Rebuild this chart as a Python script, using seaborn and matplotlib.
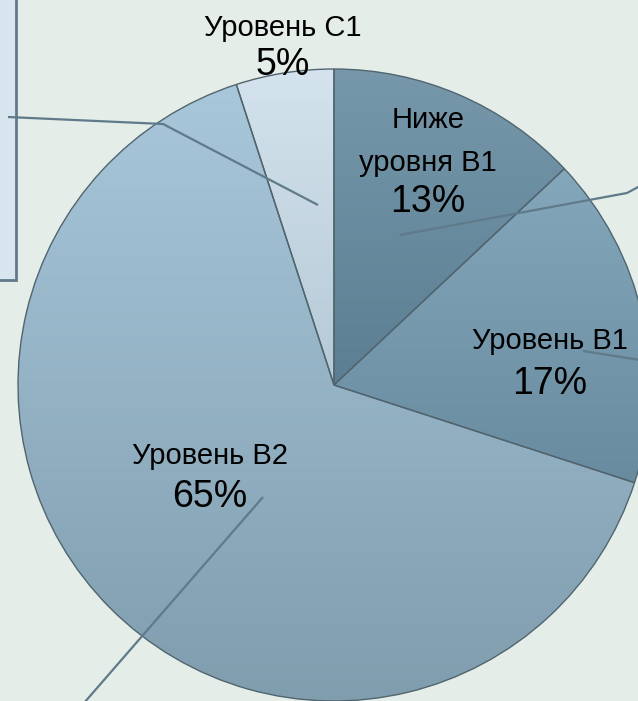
import matplotlib
matplotlib.use("Agg")
import matplotlib.pyplot as plt
from matplotlib.patches import Rectangle
import seaborn as sns
import numpy as np

# chart data
levels = ["Ниже\nуровня B1", "Уровень B1", "Уровень B2", "Уровень C1"]
shares = [13, 17, 65, 5]
pct_labels = ["13%", "17%", "65%", "5%"]

# slice colours (top / bottom of the vertical gradient)
top_colors = ["#7798ab", "#84a7bc", "#a8c7db", "#d4e3ed"]
bottom_colors = ["#5b7e92", "#698ba0", "#7f9dad", "#b5c9d6"]

sns.set_style("white")
plt.rcParams["font.family"] = ["Liberation Sans", "DejaVu Sans"]

W, H = 638, 701
bg = "#e5ede8"
line_col = "#5f7a8a"

fig = plt.figure(figsize=(6.38, 7.01), dpi=100)
fig.patch.set_facecolor(bg)
ax = fig.add_axes([0, 0, 1, 1])
ax.set_facecolor(bg)

cx, cy, r = 334, H - 385, 316
wedges, _ = ax.pie(shares, startangle=90, counterclock=False,
                   center=(cx, cy), radius=r,
                   wedgeprops=dict(edgecolor="#51656f", linewidth=1.0))

#gradient fill inside each slice
grad = np.linspace(0, 1, 256).reshape(-1, 1)
for w, c1, c2 in zip(wedges, top_colors, bottom_colors):
    verts = w.get_path().vertices
    y0, y1 = verts[:, 1].min(), verts[:, 1].max()
    x0, x1 = verts[:, 0].min(), verts[:, 0].max()
    cmap = sns.blend_palette([c1, c2], as_cmap=True)
    im = ax.imshow(grad, cmap=cmap, extent=(x0, x1, y0, y1), origin="upper",
                   aspect="auto", zorder=w.get_zorder() + 0.1)
    im.set_clip_path(w)
    w.set_facecolor("none")
    w.set_zorder(w.get_zorder() + 0.2)

# labels
label_pos = [(428, 120, 202), (550, 341, 384), (210, 456, 497), (283, 28, 65)]
for name, pct, (x, yl, yp) in zip(levels, pct_labels, label_pos):
    if "\n" in name:
        first, second = name.split("\n")
        ax.text(x, H - yl, first, ha="center", va="center", fontsize=21,
                color="black", zorder=5)
        ax.text(x, H - 163, second, ha="center", va="center", fontsize=21,
                color="black", zorder=5)
    else:
        ax.text(x, H - yl, name, ha="center", va="center", fontsize=21,
                color="black", zorder=5)
    ax.text(x, H - yp, pct, ha="center", va="center", fontsize=27,
            color="black", zorder=5)

# leader lines going off to the cut-off callouts
leaders = [
    ([318, 163, 8], [205, 124, 117]),
    ([400, 627, 640], [235, 193, 186]),
    ([583, 640], [351, 360]),
    ([263, 84], [497, 703]),
]
for xs, ys in leaders:
    ax.plot(xs, [H - y for y in ys], color=line_col, lw=1.6, zorder=6,
            solid_capstyle="butt")

# the edge of the callout box on the left
ax.add_patch(Rectangle((-10, H - 280), 25.5, 300, facecolor="#d8e5ef",
                       edgecolor=line_col, lw=2, zorder=4))

ax.set_xlim(0, W)
ax.set_ylim(0, H)
ax.set_aspect("equal")
ax.axis("off")

plt.savefig("out.png", dpi=100, facecolor=bg)
print("saved out.png")
